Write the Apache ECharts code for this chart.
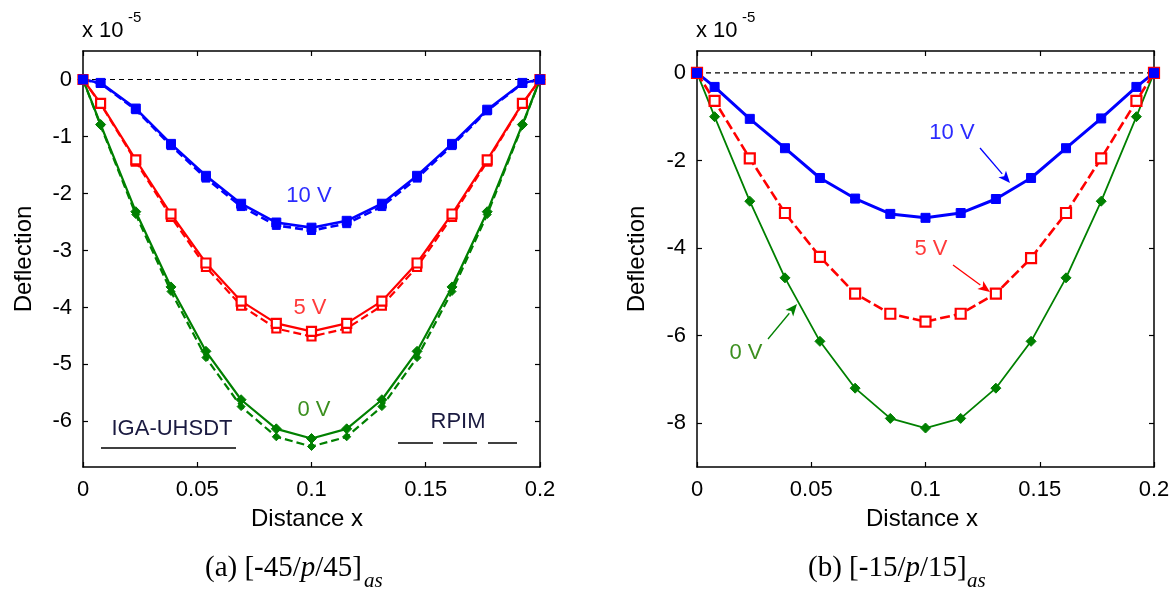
<!DOCTYPE html>
<html>
<head>
<meta charset="utf-8">
<script src="https://cdn.jsdelivr.net/npm/echarts@6/dist/echarts.min.js"></script>
<style>
html,body{margin:0;padding:0;background:#fff;}
#chart{width:1175px;height:593px;}
</style>
</head>
<body>
<div id="chart"></div>
<script>
// ---------- data ----------
const xValues = [0, 0.0077, 0.0231, 0.0385, 0.0538, 0.0692, 0.0846, 0.1, 0.1154, 0.1308, 0.1462, 0.1615, 0.1769, 0.1923, 0.2];
const xTicks = [0, 0.05, 0.1, 0.15, 0.2];
const leftYTicks = [-6, -5, -4, -3, -2, -1, 0];
const rightYTicks = [-8, -6, -4, -2, 0];

// (a) [-45/p/45]as  — IGA-UHSDT (solid) and RPIM (dashed)
const aBlueIGA   = [0, -0.06, -0.51, -1.13, -1.69, -2.18, -2.51, -2.60, -2.48, -2.18, -1.69, -1.13, -0.53, -0.06, 0];
const aBlueRPIM  = [0, -0.07, -0.53, -1.16, -1.73, -2.23, -2.56, -2.65, -2.53, -2.23, -1.73, -1.16, -0.55, -0.07, 0];
const aRedIGA    = [0, -0.42, -1.41, -2.36, -3.22, -3.89, -4.28, -4.42, -4.28, -3.89, -3.22, -2.36, -1.41, -0.42, 0];
const aRedRPIM   = [0, -0.43, -1.44, -2.41, -3.29, -3.97, -4.37, -4.51, -4.37, -3.97, -3.29, -2.41, -1.44, -0.43, 0];
const aGreenIGA  = [0, -0.79, -2.32, -3.64, -4.77, -5.62, -6.13, -6.30, -6.13, -5.62, -4.77, -3.64, -2.32, -0.79, 0];
const aGreenRPIM = [0, -0.81, -2.37, -3.72, -4.88, -5.74, -6.27, -6.44, -6.27, -5.74, -4.88, -3.72, -2.37, -0.81, 0];

// (b) [-15/p/15]as
const bBlue  = [0, -0.32, -1.05, -1.72, -2.40, -2.87, -3.22, -3.31, -3.20, -2.88, -2.40, -1.72, -1.04, -0.32, 0];
const bRed   = [0, -0.64, -1.95, -3.20, -4.20, -5.04, -5.50, -5.68, -5.50, -5.04, -4.23, -3.20, -1.95, -0.64, 0];
const bGreen = [0, -1.00, -2.93, -4.68, -6.13, -7.20, -7.89, -8.11, -7.89, -7.20, -6.13, -4.68, -2.93, -1.00, 0];

const zeroLine = [0, 0.2];

// ---------- helpers ----------
const FONT = 'Liberation Sans';
const BLUE = '#0000ff', RED = '#ff0000', GREEN = '#008000';
const pts = arr => xValues.map((x, i) => [x, arr[i]]);

function xAx(grid, pos) {
  return {
    gridIndex: grid, type: 'value', min: 0, max: 0.2, interval: 0.05, position: pos,
    axisLine: {show: true, onZero: false, lineStyle: {color: '#000', width: 1.5}},
    axisTick: {show: true, inside: true, length: 5, lineStyle: {color: '#000', width: 1.2}},
    axisLabel: {show: pos === 'bottom', color: '#000', fontSize: 22, fontFamily: FONT, margin: 12},
    splitLine: {show: false}
  };
}
function yAx(grid, pos, min, max, ticks) {
  return {
    gridIndex: grid, type: 'value', min: min, max: max, position: pos,
    axisLine: {show: true, onZero: false, lineStyle: {color: '#000', width: 1.5}},
    axisTick: {show: true, inside: true, length: 5, customValues: ticks, lineStyle: {color: '#000', width: 1.2}},
    axisLabel: {show: pos === 'left', customValues: ticks, color: '#000', fontSize: 22, fontFamily: FONT, margin: 11},
    splitLine: {show: false}
  };
}
function ser(xi, yi, data, color, type, width, symbol, size, hollow) {
  return {
    type: 'line', xAxisIndex: xi, yAxisIndex: yi, data: pts(data),
    lineStyle: {color: color, width: width, type: type},
    symbol: symbol, symbolSize: size, showSymbol: true,
    itemStyle: hollow ? {color: '#fff', borderColor: color, borderWidth: 2.2} : {color: color, borderColor: color, borderWidth: 1},
    z: 3
  };
}
function arrow(x1, y1, x2, y2, color) {
  const ang = Math.atan2(y2 - y1, x2 - x1);
  const L = 12, W = 5;
  const bx = x2 - L * Math.cos(ang), by = y2 - L * Math.sin(ang);
  const px = -Math.sin(ang) * W, py = Math.cos(ang) * W;
  return [
    {type: 'line', shape: {x1: x1, y1: y1, x2: bx, y2: by}, style: {stroke: color, lineWidth: 1.3}, z: 10},
    {type: 'polygon', shape: {points: [[x2, y2], [bx + px, by + py], [bx + 3 * Math.cos(ang), by + 3 * Math.sin(ang)], [bx - px, by - py]]}, style: {fill: color}, z: 10}
  ];
}
function txt(x, y, s, color, size, family, align, extra) {
  return Object.assign({
    type: 'text', x: x, y: y, z: 10,
    style: {text: s, fill: color, font: (size) + 'px "' + (family || FONT) + '"', textAlign: align || 'center', textVerticalAlign: 'middle'}
  }, extra || {});
}

const chart = echarts.init(document.getElementById('chart'), null, {renderer: 'canvas'});

const capRich = {
  n: {fontFamily: 'Liberation Serif', fontSize: 29, fill: '#000'},
  i: {fontFamily: 'Liberation Serif', fontStyle: 'italic', fontSize: 29, fill: '#000'}
};

const graphics = [
  // axis titles
  txt(307, 519, 'Distance x', '#000', 24),
  txt(922, 519, 'Distance x', '#000', 24),
  txt(24, 259, 'Deflection', '#000', 24, null, 'center', {rotation: Math.PI / 2}),
  txt(637, 259, 'Deflection', '#000', 24, null, 'center', {rotation: Math.PI / 2}),
  // exponent labels
  txt(82, 31, 'x 10', '#000', 22, null, 'left'),
  txt(128, 18, '-5', '#000', 15, null, 'left'),
  txt(696, 31, 'x 10', '#000', 22, null, 'left'),
  txt(742, 18, '-5', '#000', 15, null, 'left'),
  // panel (a) annotations
  txt(309, 196, '10 V', '#2b2bff', 22),
  txt(310, 308, '5 V', '#ff3b3b', 22),
  txt(314, 410, '0 V', '#3c8f1f', 22),
  txt(172, 429, 'IGA-UHSDT', '#1a1a40', 22),
  {type: 'line', shape: {x1: 101, y1: 448, x2: 236, y2: 448}, style: {stroke: '#000', lineWidth: 1.5}, z: 10},
  txt(458, 422, 'RPIM', '#1a1a40', 22),
  {type: 'line', shape: {x1: 398, y1: 443, x2: 433, y2: 443}, style: {stroke: '#000', lineWidth: 1.5}, z: 10},
  {type: 'line', shape: {x1: 443, y1: 443, x2: 477, y2: 443}, style: {stroke: '#000', lineWidth: 1.5}, z: 10},
  {type: 'line', shape: {x1: 488, y1: 443, x2: 517, y2: 443}, style: {stroke: '#000', lineWidth: 1.5}, z: 10},
  // panel (b) annotations
  txt(952, 133, '10 V', '#2b2bff', 22),
  txt(931, 249, '5 V', '#ff3b3b', 22),
  txt(746, 353, '0 V', '#3c8f1f', 22),
  ...arrow(980, 148, 1010, 183, BLUE),
  ...arrow(953, 265, 990, 292, RED),
  ...arrow(768, 339, 797, 304, GREEN),
  // captions
  {type: 'text', x: 205, y: 568, z: 10, style: {text: '{n|(a) [-45/}{i|p}{n|/45]}', textVerticalAlign: 'middle', textAlign: 'left', rich: capRich}},
  {type: 'text', x: 364, y: 581, z: 10, style: {text: 'as', font: 'italic 21px "Liberation Serif"', fill: '#000', textAlign: 'left', textVerticalAlign: 'middle'}},
  {type: 'text', x: 808, y: 568, z: 10, style: {text: '{n|(b) [-15/}{i|p}{n|/15]}', textVerticalAlign: 'middle', textAlign: 'left', rich: capRich}},
  {type: 'text', x: 967, y: 581, z: 10, style: {text: 'as', font: 'italic 21px "Liberation Serif"', fill: '#000', textAlign: 'left', textVerticalAlign: 'middle'}}
];

const option = {
  animation: false,
  backgroundColor: '#fff',
  grid: [
    {left: 83, top: 51, width: 457, height: 416},
    {left: 697, top: 51, width: 457, height: 416}
  ],
  xAxis: [xAx(0, 'bottom'), xAx(0, 'top'), xAx(1, 'bottom'), xAx(1, 'top')],
  yAxis: [
    yAx(0, 'left', -6.8, 0.5, leftYTicks), yAx(0, 'right', -6.8, 0.5, leftYTicks),
    yAx(1, 'left', -9, 0.5, rightYTicks), yAx(1, 'right', -9, 0.5, rightYTicks)
  ],
  series: [
    {type: 'line', xAxisIndex: 0, yAxisIndex: 0, data: zeroLine.map(x => [x, 0]), symbol: 'none', lineStyle: {color: '#000', width: 1.2, type: [5, 4]}, z: 2},
    {type: 'line', xAxisIndex: 2, yAxisIndex: 2, data: zeroLine.map(x => [x, 0]), symbol: 'none', lineStyle: {color: '#000', width: 1.2, type: [5, 4]}, z: 2},
    // panel (a)
    ser(0, 0, aGreenRPIM, GREEN, [8, 4], 2.2, 'diamond', 8, false),
    ser(0, 0, aGreenIGA, GREEN, 'solid', 2.2, 'diamond', 10, false),
    ser(0, 0, aRedRPIM, RED, [8, 4], 2.2, 'rect', 8, true),
    ser(0, 0, aRedIGA, RED, 'solid', 2.2, 'rect', 9, true),
    ser(0, 0, aBlueRPIM, BLUE, [8, 4], 2.6, 'rect', 8, false),
    ser(0, 0, aBlueIGA, BLUE, 'solid', 2.6, 'rect', 9, false),
    // panel (b)
    ser(2, 2, bGreen, GREEN, 'solid', 1.8, 'diamond', 10, false),
    ser(2, 2, bRed, RED, [10, 4], 2.6, 'rect', 10, true),
    ser(2, 2, bBlue, BLUE, 'solid', 3, 'rect', 9, false)
  ],
  graphic: graphics
};
chart.setOption(option);
</script>
</body>
</html>
